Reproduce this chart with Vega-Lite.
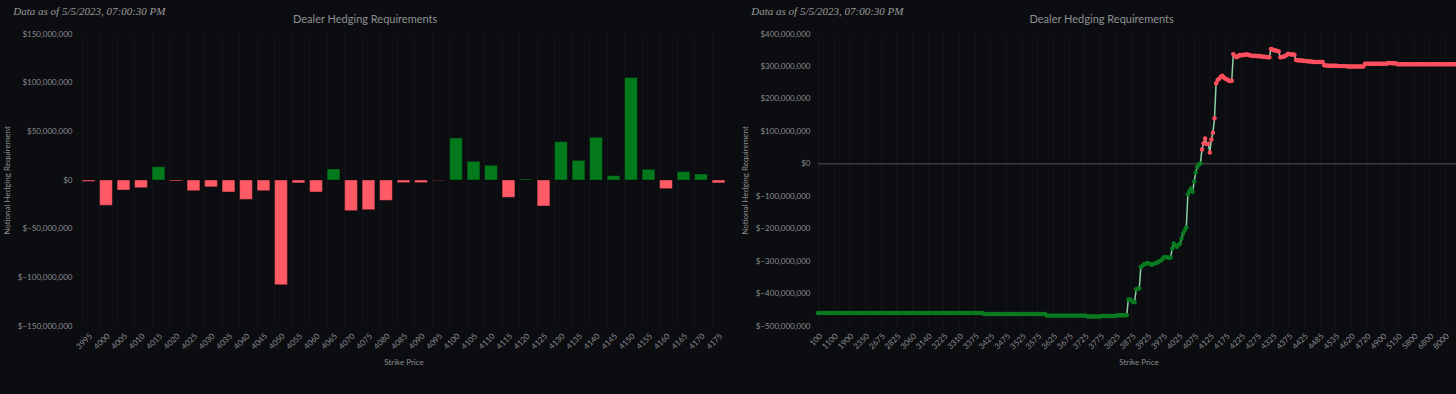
{
  "$schema": "https://vega.github.io/schema/vega-lite/v6.json",
  "background": "#0c0d10",
  "padding": {"left": 3, "top": 6, "right": 0, "bottom": 32},
  "spacing": 14,
  "config": {
    "view": {"stroke": null},
    "axis": {"domain": false, "ticks": false, "labelColor": "#8b8c90", "titleColor": "#8b8c90", "labelFont": "Lato", "titleFont": "Lato", "labelFontSize": 8, "titleFontSize": 8, "titleFontWeight": "normal", "gridColor": "#131419", "gridWidth": 1}
  },
  "datasets": {
    "bars": [
      {"strike":3995,"hedge":-1.5e6},{"strike":4000,"hedge":-26e6},{"strike":4005,"hedge":-10.3e6},{"strike":4010,"hedge":-7.9e6},
      {"strike":4015,"hedge":13.7e6},{"strike":4020,"hedge":-1e6},{"strike":4025,"hedge":-11e6},{"strike":4030,"hedge":-7e6},
      {"strike":4035,"hedge":-12.3e6},{"strike":4040,"hedge":-19.9e6},{"strike":4045,"hedge":-11e6},{"strike":4050,"hedge":-107.5e6},
      {"strike":4055,"hedge":-3e6},{"strike":4060,"hedge":-12.3e6},{"strike":4065,"hedge":11.3e6},{"strike":4070,"hedge":-31.5e6},
      {"strike":4075,"hedge":-30.5e6},{"strike":4080,"hedge":-20.9e6},{"strike":4085,"hedge":-2.7e6},{"strike":4090,"hedge":-2.7e6},
      {"strike":4095,"hedge":-0.5e6},{"strike":4100,"hedge":43.2e6},{"strike":4105,"hedge":19.2e6},{"strike":4110,"hedge":15.1e6},
      {"strike":4115,"hedge":-17.8e6},{"strike":4120,"hedge":1e6},{"strike":4125,"hedge":-26.7e6},{"strike":4130,"hedge":39.4e6},
      {"strike":4135,"hedge":20.2e6},{"strike":4140,"hedge":43.8e6},{"strike":4145,"hedge":4.5e6},{"strike":4150,"hedge":105.4e6},
      {"strike":4155,"hedge":11e6},{"strike":4160,"hedge":-8.9e6},{"strike":4165,"hedge":8.6e6},{"strike":4170,"hedge":6.2e6},
      {"strike":4175,"hedge":-3e6}
    ],
    "curve": [
      {"strike":100,"hedge":-460e6},{"strike":200,"hedge":-460e6},{"strike":300,"hedge":-460e6},{"strike":400,"hedge":-460e6},{"strike":500,"hedge":-460e6},
      {"strike":600,"hedge":-460e6},{"strike":700,"hedge":-460e6},{"strike":800,"hedge":-460e6},{"strike":900,"hedge":-460e6},{"strike":1000,"hedge":-460e6},
      {"strike":1100,"hedge":-460e6},{"strike":1200,"hedge":-460e6},{"strike":1300,"hedge":-460e6},{"strike":1400,"hedge":-460e6},{"strike":1500,"hedge":-460e6},
      {"strike":1600,"hedge":-460e6},{"strike":1700,"hedge":-460e6},{"strike":1750,"hedge":-460e6},{"strike":1800,"hedge":-460e6},{"strike":1850,"hedge":-460e6},
      {"strike":1900,"hedge":-460e6},{"strike":1950,"hedge":-460e6},{"strike":2000,"hedge":-460e6},{"strike":2050,"hedge":-460e6},{"strike":2100,"hedge":-460e6},
      {"strike":2150,"hedge":-460e6},{"strike":2200,"hedge":-460e6},{"strike":2250,"hedge":-460e6},{"strike":2300,"hedge":-460e6},{"strike":2325,"hedge":-460e6},
      {"strike":2350,"hedge":-460e6},{"strike":2400,"hedge":-460e6},{"strike":2450,"hedge":-460e6},{"strike":2500,"hedge":-460e6},{"strike":2550,"hedge":-460e6},
      {"strike":2575,"hedge":-460e6},{"strike":2600,"hedge":-460e6},{"strike":2625,"hedge":-460e6},{"strike":2650,"hedge":-460e6},{"strike":2660,"hedge":-460e6},
      {"strike":2675,"hedge":-460e6},{"strike":2700,"hedge":-460e6},{"strike":2725,"hedge":-460e6},{"strike":2750,"hedge":-460e6},{"strike":2760,"hedge":-460e6},
      {"strike":2770,"hedge":-460e6},{"strike":2775,"hedge":-460e6},{"strike":2780,"hedge":-460e6},{"strike":2790,"hedge":-460e6},{"strike":2800,"hedge":-460e6},
      {"strike":2825,"hedge":-460e6},{"strike":2850,"hedge":-460e6},{"strike":2875,"hedge":-460e6},{"strike":2900,"hedge":-460e6},{"strike":2925,"hedge":-460e6},
      {"strike":2950,"hedge":-460e6},{"strike":2975,"hedge":-460e6},{"strike":3000,"hedge":-460e6},{"strike":3025,"hedge":-460e6},{"strike":3050,"hedge":-460e6},
      {"strike":3060,"hedge":-460e6},{"strike":3070,"hedge":-460e6},{"strike":3075,"hedge":-460e6},{"strike":3080,"hedge":-460e6},{"strike":3090,"hedge":-460e6},
      {"strike":3100,"hedge":-460e6},{"strike":3110,"hedge":-460e6},{"strike":3120,"hedge":-460e6},{"strike":3125,"hedge":-460e6},{"strike":3130,"hedge":-460e6},
      {"strike":3140,"hedge":-460e6},{"strike":3150,"hedge":-460e6},{"strike":3160,"hedge":-460e6},{"strike":3170,"hedge":-460e6},{"strike":3175,"hedge":-460e6},
      {"strike":3180,"hedge":-460e6},{"strike":3190,"hedge":-460e6},{"strike":3200,"hedge":-460e6},{"strike":3210,"hedge":-460e6},{"strike":3220,"hedge":-460e6},
      {"strike":3225,"hedge":-460e6},{"strike":3230,"hedge":-460e6},{"strike":3240,"hedge":-460e6},{"strike":3250,"hedge":-460e6},{"strike":3260,"hedge":-460e6},
      {"strike":3270,"hedge":-460e6},{"strike":3275,"hedge":-460e6},{"strike":3280,"hedge":-460e6},{"strike":3290,"hedge":-460e6},{"strike":3300,"hedge":-460e6},
      {"strike":3310,"hedge":-460e6},{"strike":3320,"hedge":-460e6},{"strike":3325,"hedge":-460e6},{"strike":3330,"hedge":-460e6},{"strike":3340,"hedge":-460e6},
      {"strike":3345,"hedge":-460e6},{"strike":3350,"hedge":-460e6},{"strike":3355,"hedge":-460e6},{"strike":3360,"hedge":-460e6},{"strike":3370,"hedge":-460e6},
      {"strike":3375,"hedge":-460e6},{"strike":3380,"hedge":-460e6},{"strike":3385,"hedge":-460e6},{"strike":3390,"hedge":-460e6},{"strike":3395,"hedge":-460e6},
      {"strike":3400,"hedge":-460e6},{"strike":3405,"hedge":-463e6},{"strike":3410,"hedge":-463e6},{"strike":3415,"hedge":-463e6},{"strike":3420,"hedge":-463e6},
      {"strike":3425,"hedge":-463e6},{"strike":3430,"hedge":-463e6},{"strike":3435,"hedge":-463e6},{"strike":3440,"hedge":-463e6},{"strike":3445,"hedge":-463e6},
      {"strike":3450,"hedge":-463e6},{"strike":3455,"hedge":-463e6},{"strike":3460,"hedge":-463e6},{"strike":3465,"hedge":-463e6},{"strike":3470,"hedge":-463e6},
      {"strike":3475,"hedge":-463e6},{"strike":3480,"hedge":-463e6},{"strike":3485,"hedge":-463e6},{"strike":3490,"hedge":-463e6},{"strike":3495,"hedge":-463e6},
      {"strike":3500,"hedge":-463e6},{"strike":3505,"hedge":-463e6},{"strike":3510,"hedge":-463e6},{"strike":3515,"hedge":-463e6},{"strike":3520,"hedge":-463e6},
      {"strike":3525,"hedge":-463e6},{"strike":3530,"hedge":-463e6},{"strike":3535,"hedge":-463e6},{"strike":3540,"hedge":-463e6},{"strike":3545,"hedge":-463e6},
      {"strike":3550,"hedge":-463e6},{"strike":3555,"hedge":-463e6},{"strike":3560,"hedge":-463e6},{"strike":3565,"hedge":-463e6},{"strike":3570,"hedge":-463e6},
      {"strike":3575,"hedge":-463e6},{"strike":3580,"hedge":-463e6},{"strike":3585,"hedge":-463e6},{"strike":3590,"hedge":-463e6},{"strike":3595,"hedge":-463e6},
      {"strike":3600,"hedge":-463e6},{"strike":3605,"hedge":-468e6},{"strike":3610,"hedge":-468e6},{"strike":3615,"hedge":-468e6},{"strike":3620,"hedge":-468e6},
      {"strike":3625,"hedge":-468e6},{"strike":3630,"hedge":-468e6},{"strike":3635,"hedge":-468e6},{"strike":3640,"hedge":-468e6},{"strike":3645,"hedge":-468e6},
      {"strike":3650,"hedge":-468e6},{"strike":3655,"hedge":-468e6},{"strike":3660,"hedge":-468e6},{"strike":3665,"hedge":-468e6},{"strike":3670,"hedge":-468e6},
      {"strike":3675,"hedge":-468e6},{"strike":3680,"hedge":-468e6},{"strike":3685,"hedge":-468e6},{"strike":3690,"hedge":-468e6},{"strike":3695,"hedge":-468e6},
      {"strike":3700,"hedge":-468e6},{"strike":3705,"hedge":-468e6},{"strike":3710,"hedge":-468e6},{"strike":3715,"hedge":-468e6},{"strike":3720,"hedge":-468e6},
      {"strike":3725,"hedge":-468e6},{"strike":3730,"hedge":-468e6},{"strike":3735,"hedge":-471e6},{"strike":3740,"hedge":-471e6},{"strike":3745,"hedge":-471e6},
      {"strike":3750,"hedge":-471e6},{"strike":3755,"hedge":-471e6},{"strike":3760,"hedge":-471e6},{"strike":3765,"hedge":-471e6},{"strike":3770,"hedge":-471e6},
      {"strike":3775,"hedge":-471e6},{"strike":3780,"hedge":-469e6},{"strike":3785,"hedge":-469e6},{"strike":3790,"hedge":-469e6},{"strike":3795,"hedge":-469e6},
      {"strike":3800,"hedge":-469e6},{"strike":3805,"hedge":-469e6},{"strike":3810,"hedge":-469e6},{"strike":3815,"hedge":-469e6},{"strike":3820,"hedge":-469e6},
      {"strike":3825,"hedge":-469e6},{"strike":3830,"hedge":-467e6},{"strike":3835,"hedge":-467e6},{"strike":3840,"hedge":-467e6},{"strike":3845,"hedge":-467e6},
      {"strike":3850,"hedge":-467e6},{"strike":3855,"hedge":-467e6},{"strike":3860,"hedge":-467e6},{"strike":3865,"hedge":-418e6},{"strike":3870,"hedge":-418e6},
      {"strike":3875,"hedge":-421e6},{"strike":3880,"hedge":-426e6},{"strike":3885,"hedge":-427e6},{"strike":3890,"hedge":-387e6},{"strike":3895,"hedge":-385e6},
      {"strike":3900,"hedge":-384e6},{"strike":3905,"hedge":-318e6},{"strike":3910,"hedge":-314e6},{"strike":3915,"hedge":-310e6},{"strike":3920,"hedge":-309e6},
      {"strike":3925,"hedge":-306e6},{"strike":3930,"hedge":-307e6},{"strike":3935,"hedge":-309e6},{"strike":3940,"hedge":-311e6},{"strike":3945,"hedge":-309e6},
      {"strike":3950,"hedge":-307e6},{"strike":3955,"hedge":-306e6},{"strike":3960,"hedge":-303e6},{"strike":3965,"hedge":-300e6},{"strike":3970,"hedge":-297e6},
      {"strike":3975,"hedge":-292e6},{"strike":3980,"hedge":-287e6},{"strike":3985,"hedge":-288e6},{"strike":3990,"hedge":-288e6},{"strike":3995,"hedge":-290e6},
      {"strike":4000,"hedge":-289e6},{"strike":4005,"hedge":-261e6},{"strike":4010,"hedge":-246e6},{"strike":4015,"hedge":-252e6},{"strike":4020,"hedge":-256e6},
      {"strike":4025,"hedge":-250e6},{"strike":4030,"hedge":-246e6},{"strike":4035,"hedge":-230e6},{"strike":4040,"hedge":-215e6},{"strike":4045,"hedge":-205e6},
      {"strike":4050,"hedge":-196e6},{"strike":4055,"hedge":-95e6},{"strike":4060,"hedge":-85e6},{"strike":4065,"hedge":-76e6},{"strike":4070,"hedge":-86e6},
      {"strike":4075,"hedge":-55e6},{"strike":4080,"hedge":-27e6},{"strike":4085,"hedge":-9e6},{"strike":4090,"hedge":-2e6},{"strike":4095,"hedge":1e6},
      {"strike":4100,"hedge":44e6},{"strike":4105,"hedge":63e6},{"strike":4110,"hedge":78e6},{"strike":4115,"hedge":61e6},{"strike":4120,"hedge":62e6},
      {"strike":4125,"hedge":35e6},{"strike":4130,"hedge":75e6},{"strike":4135,"hedge":96e6},{"strike":4140,"hedge":140e6},{"strike":4145,"hedge":248e6},
      {"strike":4150,"hedge":258e6},{"strike":4155,"hedge":262e6},{"strike":4160,"hedge":268e6},{"strike":4165,"hedge":271e6},{"strike":4170,"hedge":266e6},
      {"strike":4175,"hedge":262e6},{"strike":4180,"hedge":260e6},{"strike":4185,"hedge":257e6},{"strike":4190,"hedge":255e6},{"strike":4195,"hedge":256e6},
      {"strike":4200,"hedge":338e6},{"strike":4205,"hedge":332e6},{"strike":4210,"hedge":328e6},{"strike":4215,"hedge":331e6},{"strike":4220,"hedge":335e6},
      {"strike":4225,"hedge":334e6},{"strike":4230,"hedge":336e6},{"strike":4235,"hedge":335e6},{"strike":4240,"hedge":337e6},{"strike":4245,"hedge":337e6},
      {"strike":4250,"hedge":335e6},{"strike":4255,"hedge":334e6},{"strike":4260,"hedge":333e6},{"strike":4265,"hedge":332e6},{"strike":4270,"hedge":333e6},
      {"strike":4275,"hedge":332e6},{"strike":4280,"hedge":331e6},{"strike":4285,"hedge":332e6},{"strike":4290,"hedge":331e6},{"strike":4295,"hedge":330e6},
      {"strike":4300,"hedge":330e6},{"strike":4305,"hedge":329e6},{"strike":4310,"hedge":328e6},{"strike":4315,"hedge":328e6},{"strike":4320,"hedge":354e6},
      {"strike":4325,"hedge":352e6},{"strike":4330,"hedge":350e6},{"strike":4335,"hedge":349e6},{"strike":4340,"hedge":348e6},{"strike":4345,"hedge":346e6},
      {"strike":4350,"hedge":328e6},{"strike":4355,"hedge":329e6},{"strike":4360,"hedge":330e6},{"strike":4365,"hedge":332e6},{"strike":4370,"hedge":335e6},
      {"strike":4375,"hedge":339e6},{"strike":4380,"hedge":338e6},{"strike":4385,"hedge":337e6},{"strike":4390,"hedge":337e6},{"strike":4395,"hedge":336e6},
      {"strike":4400,"hedge":320e6},{"strike":4405,"hedge":319e6},{"strike":4410,"hedge":318e6},{"strike":4415,"hedge":318e6},{"strike":4420,"hedge":318e6},
      {"strike":4425,"hedge":317e6},{"strike":4430,"hedge":317e6},{"strike":4435,"hedge":317e6},{"strike":4440,"hedge":315e6},{"strike":4445,"hedge":315e6},
      {"strike":4450,"hedge":315e6},{"strike":4460,"hedge":314e6},{"strike":4470,"hedge":314e6},{"strike":4475,"hedge":314e6},{"strike":4480,"hedge":314e6},
      {"strike":4485,"hedge":314e6},{"strike":4490,"hedge":314e6},{"strike":4495,"hedge":314e6},{"strike":4500,"hedge":304e6},{"strike":4505,"hedge":303e6},
      {"strike":4510,"hedge":303e6},{"strike":4515,"hedge":302e6},{"strike":4520,"hedge":302e6},{"strike":4525,"hedge":302e6},{"strike":4530,"hedge":302e6},
      {"strike":4535,"hedge":302e6},{"strike":4540,"hedge":302e6},{"strike":4545,"hedge":301e6},{"strike":4550,"hedge":301e6},{"strike":4560,"hedge":301e6},
      {"strike":4570,"hedge":301e6},{"strike":4575,"hedge":301e6},{"strike":4580,"hedge":301e6},{"strike":4600,"hedge":300e6},{"strike":4610,"hedge":300e6},
      {"strike":4620,"hedge":300e6},{"strike":4625,"hedge":300e6},{"strike":4630,"hedge":300e6},{"strike":4640,"hedge":300e6},{"strike":4650,"hedge":300e6},
      {"strike":4660,"hedge":300e6},{"strike":4675,"hedge":300e6},{"strike":4680,"hedge":300e6},{"strike":4700,"hedge":300e6},{"strike":4710,"hedge":308e6},
      {"strike":4720,"hedge":308e6},{"strike":4725,"hedge":308e6},{"strike":4750,"hedge":308e6},{"strike":4775,"hedge":308e6},{"strike":4800,"hedge":308e6},
      {"strike":4825,"hedge":308e6},{"strike":4850,"hedge":308e6},{"strike":4860,"hedge":308e6},{"strike":4875,"hedge":308e6},{"strike":4880,"hedge":308e6},
      {"strike":4900,"hedge":308e6},{"strike":4925,"hedge":308e6},{"strike":4950,"hedge":308e6},{"strike":4975,"hedge":308e6},{"strike":5000,"hedge":311e6},
      {"strike":5025,"hedge":311e6},{"strike":5050,"hedge":310e6},{"strike":5075,"hedge":310e6},{"strike":5100,"hedge":310e6},{"strike":5125,"hedge":309e6},
      {"strike":5150,"hedge":307e6},{"strike":5200,"hedge":307e6},{"strike":5250,"hedge":307e6},{"strike":5300,"hedge":307e6},{"strike":5350,"hedge":307e6},
      {"strike":5400,"hedge":307e6},{"strike":5450,"hedge":307e6},{"strike":5500,"hedge":307e6},{"strike":5600,"hedge":307e6},{"strike":5700,"hedge":307e6},
      {"strike":5800,"hedge":307e6},{"strike":5900,"hedge":307e6},{"strike":6000,"hedge":307e6},{"strike":6100,"hedge":307e6},{"strike":6200,"hedge":307e6},
      {"strike":6300,"hedge":307e6},{"strike":6400,"hedge":307e6},{"strike":6500,"hedge":307e6},{"strike":6600,"hedge":307e6},{"strike":6700,"hedge":307e6},
      {"strike":6800,"hedge":307e6},{"strike":6900,"hedge":307e6},{"strike":7000,"hedge":307e6},{"strike":7100,"hedge":307e6},{"strike":7200,"hedge":307e6},
      {"strike":7300,"hedge":307e6},{"strike":7400,"hedge":307e6},{"strike":7500,"hedge":307e6},{"strike":7600,"hedge":307e6},{"strike":7800,"hedge":307e6},
      {"strike":8000,"hedge":307e6},{"strike":8200,"hedge":307e6},{"strike":8400,"hedge":307e6},{"strike":8600,"hedge":307e6},{"strike":8800,"hedge":307e6},
      {"strike":9000,"hedge":307e6},{"strike":9500,"hedge":307e6},{"strike":10000,"hedge":307e6},{"strike":11000,"hedge":307e6},{"strike":12000,"hedge":307e6}
    ]
  },
  "hconcat": [
    {
      "title": {"text": "Data as of 5/5/2023, 07:00:30 PM", "anchor": "start", "dx": 10, "font": "Liberation Serif", "fontStyle": "italic", "fontSize": 11, "fontWeight": "normal", "color": "#9a9a9a", "offset": -3},
      "vconcat": [
        {
          "title": {"text": "Dealer Hedging Requirements", "anchor": "middle", "frame": "bounds", "font": "Lato", "fontSize": 11, "fontWeight": "normal", "color": "#8e8f93", "offset": 5},
          "width": 647,
          "height": 292,
          "data": {"name": "bars"},
          "mark": {"type": "bar", "stroke": "#000000", "strokeOpacity": 0.35, "strokeWidth": 1},
          "encoding": {
            "x": {"field": "strike", "type": "ordinal", "scale": {"paddingInner": 0.27, "paddingOuter": 0.12},
                  "axis": {"title": "Strike Price", "labelAngle": -45, "grid": true, "bandPosition": 0, "labelPadding": 6, "titlePadding": 8}},
            "y": {"field": "hedge", "type": "quantitative", "scale": {"domain": [-150000000, 150000000], "nice": false},
                  "axis": {"title": "Notional Hedging Requirement", "values": [-150000000, -100000000, -50000000, 0, 50000000, 100000000, 150000000], "labelExpr": "'$' + format(datum.value, ',')", "grid": false, "labelPadding": 8, "titlePadding": 6}},
            "color": {"condition": {"test": "datum.hedge < 0", "value": "#ff5a66"}, "value": "#047a1c"}
          }
        }
      ]
    },
    {
      "title": {"text": "Data as of 5/5/2023, 07:00:30 PM", "anchor": "start", "dx": 10, "font": "Liberation Serif", "fontStyle": "italic", "fontSize": 11, "fontWeight": "normal", "color": "#9a9a9a", "offset": -3},
      "vconcat": [
        {
          "title": {"text": "Dealer Hedging Requirements", "anchor": "middle", "frame": "bounds", "font": "Lato", "fontSize": 11, "fontWeight": "normal", "color": "#8e8f93", "offset": 5},
          "width": 641,
          "height": 292,
          "data": {"name": "curve"},
          "encoding": {
            "x": {"field": "strike", "type": "ordinal", "scale": {"type": "point", "padding": 0},
                  "axis": {"title": "Strike Price", "labelAngle": -45, "grid": true, "labelPadding": 6, "titlePadding": 8,
                           "values": [100, 1100, 1900, 2350, 2675, 2825, 3060, 3140, 3225, 3310, 3375, 3425, 3475, 3525, 3575, 3625, 3675, 3725, 3775, 3825, 3875, 3925, 3975, 4025, 4075, 4125, 4175, 4225, 4275, 4325, 4375, 4425, 4485, 4535, 4620, 4720, 4900, 5150, 5800, 6800, 8000]}},
            "y": {"field": "hedge", "type": "quantitative", "scale": {"domain": [-500000000, 400000000], "nice": false},
                  "axis": {"title": "Notional Hedging Requirement", "values": [-500000000, -400000000, -300000000, -200000000, -100000000, 0, 100000000, 200000000, 300000000, 400000000], "labelExpr": "'$' + format(datum.value, ',')", "grid": false, "labelPadding": 8, "titlePadding": 6}}
          },
          "layer": [
            {"data": {"values": [{"zero": 0}]}, "mark": {"type": "rule", "color": "#3b3c41", "strokeWidth": 1.5}, "encoding": {"x": null, "y": {"field": "zero", "type": "quantitative"}}},
            {"mark": {"type": "line", "color": "#8fd0a8", "strokeWidth": 1.5}},
            {"mark": {"type": "point", "filled": true, "size": 20, "opacity": 1},
             "encoding": {"color": {"condition": {"test": "datum.hedge > 5000000", "value": "#ff4f5e"}, "value": "#0a7a20"}}}
          ]
        }
      ]
    }
  ]
}
